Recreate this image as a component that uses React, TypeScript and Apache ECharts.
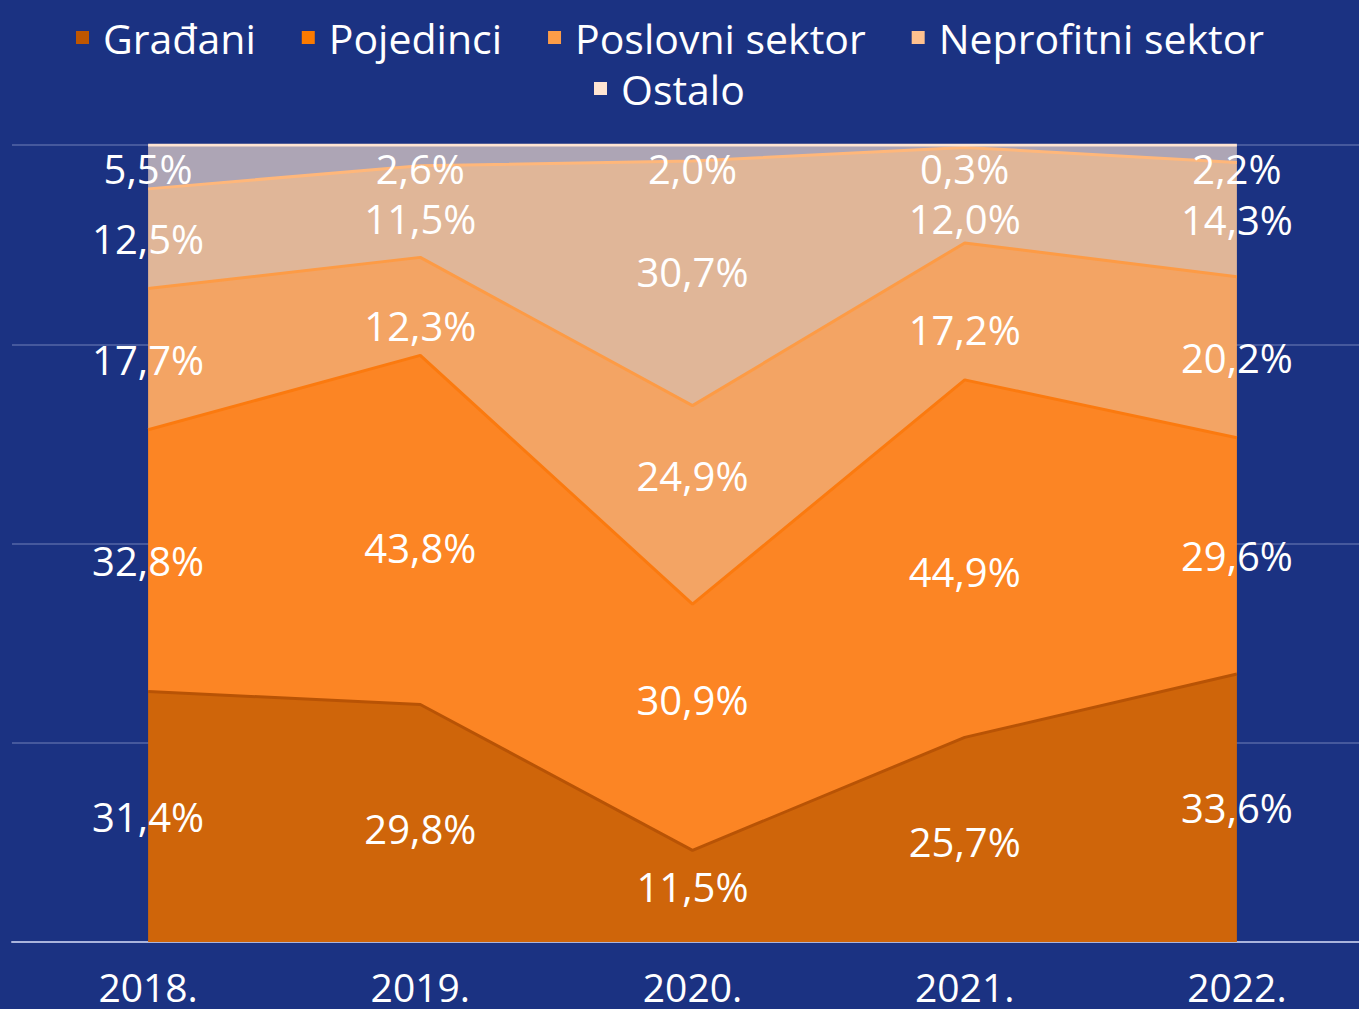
import React, { useEffect, useRef } from "react";
import * as echarts from "echarts";

const years = ["2018.", "2019.", "2020.", "2021.", "2022."];
const seriesNames = ["Građani", "Pojedinci", "Poslovni sektor", "Neprofitni sektor", "Ostalo"];
const gradjani = [31.4, 29.8, 11.5, 25.7, 33.6];
const pojedinci = [32.8, 43.8, 30.9, 44.9, 29.6];
const poslovni = [17.7, 12.3, 24.9, 17.2, 20.2];
const neprofitni = [12.5, 11.5, 30.7, 12.0, 14.3];
const ostalo = [5.5, 2.6, 2.0, 0.3, 2.2];
const yTicks = [0, 25, 50, 75, 100];

const markerColors = ["#bf5600", "#fb7a00", "#fd9d48", "#ffc18f", "#ffe5d2"];
const lineColors = ["#b85305", "#fb7a0f", "#fd9b45", "#ffb77a", "#ffe5d2"];
const areaColors = ["#cf650a", "#fc8524", "#f3a464", "#e0b698", "#ada5b5"];

const fmt = (v: number) => v.toFixed(1).replace(".", ",") + "%";

export default function App() {
  const ref = useRef<HTMLDivElement>(null);
  useEffect(() => {
    if (!ref.current) return;
    const chart = echarts.init(ref.current, undefined, { renderer: "svg" });
    const all = [gradjani, pojedinci, poslovni, neprofitni, ostalo];
    const totals = years.map((_, i) => all.reduce((s, arr) => s + arr[i], 0));
    const norm = all.map((arr) => arr.map((v, i) => (v / totals[i]) * 100));

    // band midpoints (in % of stack)
    const mids = all.map((_, k) =>
      years.map((__, i) => {
        let base = 0;
        for (let j = 0; j < k; j++) base += norm[j][i];
        return base + norm[k][i] / 2;
      })
    );
    // smooth interior label positions slightly toward neighbours, then avoid overlap top-down
    const plotPx = 797;
    const halfLabel = (23 / plotPx) * 100;
    const minGap = (50 / plotPx) * 100;
    const labelPos = all.map(() => years.map(() => 0));
    years.forEach((_, i) => {
      let prev = 100 - halfLabel + minGap;
      for (let k = all.length - 1; k >= 0; k--) {
        let p = mids[k][i];
        if (i > 0 && i < years.length - 1) {
          const nb = (mids[k][i - 1] + mids[k][i + 1]) / 2;
          p = p + 0.15 * (nb - p);
        }
        p = Math.min(p, prev - minGap);
        labelPos[k][i] = p;
        prev = p;
      }
    });

    const areaSeries = all.map((arr, k) => ({
      name: seriesNames[k],
      type: "line",
      stack: "total",
      symbol: "none",
      data: norm[k],
      itemStyle: { color: markerColors[k] },
      lineStyle: { color: lineColors[k], width: 3 },
      areaStyle: { color: areaColors[k], opacity: 1 },
      z: 2,
    }));

    const labelSeries = all.map((arr, k) => ({
      name: "lbl" + k,
      type: "scatter",
      symbolSize: 0,
      z: 10,
      silent: true,
      itemStyle: { opacity: 1 },
      data: arr.map((v, i) => [i, labelPos[k][i], v]),
      label: {
        show: true,
        position: "inside",
        formatter: (p: any) => fmt(p.data[2]),
        color: "#ffffff",
        opacity: 1,
        textBorderWidth: 0,
        fontSize: 40,
        fontFamily: "Open Sans",
      },
    }));

    const legendText = {
      color: "#ffffff",
      fontSize: 41,
      fontFamily: "Open Sans",
      padding: [0, 0, 0, 9],
    };

    chart.setOption({
      animation: false,
      backgroundColor: "#1b3282",
      legend: [
        {
          data: seriesNames.slice(0, 4),
          top: 17,
          left: 76,
          padding: 0,
          itemGap: 46,
          itemWidth: 13,
          itemHeight: 13,
          icon: "rect",
          textStyle: legendText,
        },
        {
          data: seriesNames.slice(4),
          top: 68,
          left: 594,
          padding: 0,
          itemWidth: 13,
          itemHeight: 13,
          icon: "rect",
          textStyle: legendText,
        },
      ],
      grid: { left: 12, right: 0, top: 145, bottom: 67, containLabel: false },
      xAxis: {
        type: "category",
        data: years,
        boundaryGap: true,
        axisLine: { show: true, lineStyle: { color: "#aab4dc", width: 2 } },
        axisTick: { show: false },
        axisLabel: {
          color: "#ffffff",
          fontSize: 39,
          lineHeight: 36,
          fontFamily: "Open Sans",
          margin: 26,
        },
      },
      yAxis: {
        type: "value",
        min: yTicks[0],
        max: yTicks[yTicks.length - 1],
        interval: yTicks[1] - yTicks[0],
        axisLabel: { show: false },
        axisLine: { show: false },
        axisTick: { show: false },
        splitLine: { show: true, lineStyle: { color: "#5667a6", width: 1.5 } },
      },
      series: [...areaSeries, ...labelSeries],
    });
    return () => chart.dispose();
  }, []);
  return (
    <div
      style={{
        position: "fixed",
        left: 0,
        top: 0,
        width: 1359,
        height: 1009,
        overflow: "hidden",
        background: "#1b3282",
      }}
    >
      <div ref={ref} style={{ width: 1373, height: 1009 }} />
    </div>
  );
}
